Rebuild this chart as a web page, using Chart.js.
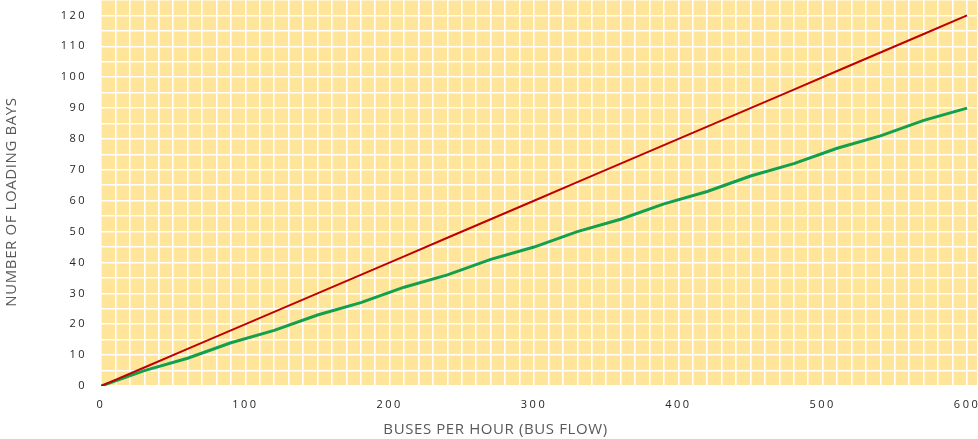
<!DOCTYPE html>
<html>
<head>
<meta charset="utf-8">
<script src="https://cdn.jsdelivr.net/npm/chart.js@4/dist/chart.umd.min.js"></script>
<style>
  html, body { margin: 0; padding: 0; background: #fff; }
  #wrap { width: 978px; height: 439px; position: relative; }
</style>
</head>
<body>
<div id="wrap"><canvas id="myChart"></canvas></div>
<script>
// buses per hour
var busFlow = [0, 30, 60, 90, 120, 150, 180, 210, 240, 270, 300, 330, 360, 390, 420, 450, 480, 510, 540, 570, 600];
// red line
var upperBays = [0, 6, 12, 18, 24, 30, 36, 42, 48, 54, 60, 66, 72, 78, 84, 90, 96, 102, 108, 114, 120];
// green line
var neededBays = [0, 5, 9, 14, 18, 23, 27, 32, 36, 41, 45, 50, 54, 59, 63, 68, 72, 77, 81, 86, 90];
var xTickLabels = [0, 100, 200, 300, 400, 500, 600];
var yTickLabels = [0, 10, 20, 30, 40, 50, 60, 70, 80, 90, 100, 110, 120];

function toPoints(ys) {
  return busFlow.map(function (x, i) { return { x: x, y: ys[i] }; });
}

// grid every `step`, up to the axis max
function gridTicks(step) {
  return function (s) {
    var t = [];
    for (var v = s.min; v <= s.max + 1e-9; v += step) t.push({ value: v });
    if (t[t.length - 1].value < s.max) t.push({ value: s.max });
    s.ticks = t;
  };
}

// wide letter spacing for tick digits, less for axis titles
// titles sit a bit off the plot centre in the original
var origDrawTitle = Chart.Scale.prototype.drawTitle;
Chart.Scale.prototype.drawTitle = function () {
  var ctx = this.ctx;
  var old = ctx.letterSpacing;
  ctx.save();
  ctx.letterSpacing = "0.6px";
  if (this.isHorizontal()) ctx.translate(-44, 0);
  else ctx.translate(0, 9);
  origDrawTitle.apply(this, arguments);
  ctx.restore();
  ctx.letterSpacing = old;
};
var spacing = {
  id: "spacing",
  beforeLayout: function (chart) { chart.ctx.letterSpacing = "2.5px"; },
  beforeDraw: function (chart) { chart.ctx.letterSpacing = "2.5px"; }
};

var plotBg = {
  id: "plotBg",
  beforeDraw: function (chart) {
    var a = chart.chartArea;
    chart.ctx.save();
    chart.ctx.fillStyle = "#FFE599";
    chart.ctx.fillRect(a.left, a.top, a.right - a.left, a.bottom - a.top);
    chart.ctx.restore();
  }
};

new Chart("myChart", {
  type: "line",
  data: {
    datasets: [{
      data: toPoints(upperBays),
      borderColor: "#C00000",
      borderWidth: 2,
      pointRadius: 0,
      tension: 0
    }, {
      data: toPoints(neededBays),
      borderColor: "#12A04E",
      borderWidth: 3,
      pointRadius: 0,
      tension: 0
    }]
  },
  options: {
    responsive: true,
    maintainAspectRatio: false,
    animation: false,
    layout: { padding: 0 },
    plugins: {
      legend: { display: false },
      tooltip: { enabled: false }
    },
    scales: {
      x: {
        type: "linear",
        min: 0,
        max: 607.6,
        afterBuildTicks: gridTicks(10),
        afterFit: function (s) {
          s.height = 53;
          s.paddingLeft = 0;
          s.paddingRight = 0;
        },
        border: { display: false },
        grid: { color: "#ffffff", lineWidth: 1.6, drawTicks: false },
        ticks: {
          autoSkip: false,
          maxRotation: 0,
          padding: 12,
          color: "#262626",
          font: { family: "Open Sans", size: 11 },
          callback: function (v) { return xTickLabels.indexOf(v) >= 0 ? String(v) : ""; }
        },
        title: {
          display: true,
          text: "BUSES PER HOUR (BUS FLOW)",
          color: "#595959",
          font: { family: "Open Sans", size: 15 },
          padding: { top: 2, bottom: 0 }
        }
      },
      y: {
        min: 0,
        max: 125,
        afterBuildTicks: gridTicks(5),
        afterFit: function (s) {
          s.width = 101;
          s.paddingTop = 0;
          s.paddingBottom = 0;
        },
        border: { display: false },
        grid: { color: "#ffffff", lineWidth: 1.6, drawTicks: false },
        ticks: {
          autoSkip: false,
          padding: 14,
          color: "#262626",
          font: { family: "Open Sans", size: 11 },
          callback: function (v) { return yTickLabels.indexOf(v) >= 0 ? String(v) : ""; }
        },
        title: {
          display: true,
          text: "NUMBER OF LOADING BAYS",
          color: "#595959",
          font: { family: "Open Sans", size: 15 },
          padding: { top: 3, bottom: 0 }
        }
      }
    }
  },
  plugins: [spacing, plotBg]
});
</script>
</body>
</html>
